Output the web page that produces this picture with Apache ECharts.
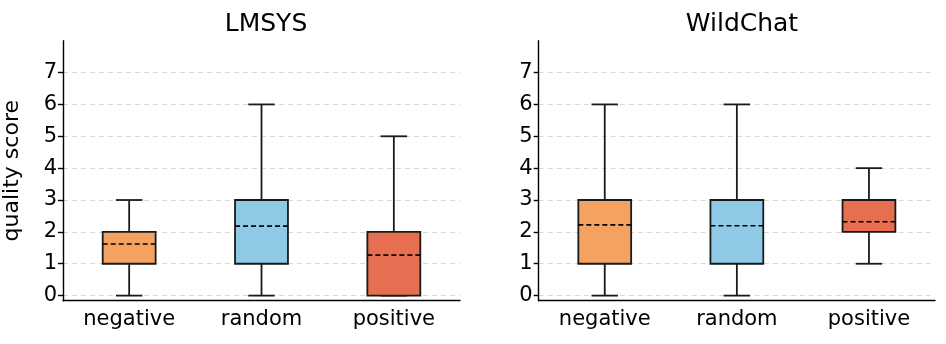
<!DOCTYPE html>
<html>
<head>
<meta charset="utf-8">
<script src="https://cdn.jsdelivr.net/npm/echarts@6/dist/echarts.min.js"></script>
<style>
  html, body { margin: 0; padding: 0; background: #fff; }
  #chart { width: 946px; height: 344px; }
</style>
</head>
<body>
<div id="chart"></div>
<script>
// data
var categories = ['negative', 'random', 'positive'];
var yTicks = [0, 1, 2, 3, 4, 5, 6, 7];
var boxColors = ['#f4a261', '#8ecae6', '#e76f51'];

var lmsysLow = [0, 0, 0],
	lmsysQ1 = [1, 1, 0],
	lmsysQ3 = [2, 3, 2],
	lmsysHigh = [3, 6, 5],
	lmsysMean = [1.62, 2.18, 1.27];

var wildLow = [0, 0, 1],
	wildQ1 = [1, 1, 2],
	wildQ3 = [3, 3, 3],
	wildHigh = [6, 6, 4],
	wildMean = [2.22, 2.19, 2.32];

var font = 'DejaVu Sans';

var buildRows = function(low, q1, q3, high, mean){
	var rows = [];
	for(var i = 0; i < categories.length; i++){
		rows.push([i, low[i], q1[i], q3[i], high[i], mean[i]]);
	}
	return rows;
};

var renderBox = function(params, api){
	var idx = api.value(0);
	var band = api.size([1, 0])[0];
	var cx = api.coord([idx, 0])[0];
	var yLow = api.coord([idx, api.value(1)])[1],
		yQ1 = api.coord([idx, api.value(2)])[1],
		yQ3 = api.coord([idx, api.value(3)])[1],
		yHigh = api.coord([idx, api.value(4)])[1],
		yMean = api.coord([idx, api.value(5)])[1];
	var half = band * 0.2, cap = band * 0.1;
	var line = {stroke: '#1a1a1a', lineWidth: 1.8};
	return {
		type: 'group',
		children: [
			{type: 'line', shape: {x1: cx, y1: yQ1, x2: cx, y2: yLow}, style: line},
			{type: 'line', shape: {x1: cx, y1: yQ3, x2: cx, y2: yHigh}, style: line},
			{type: 'line', shape: {x1: cx - cap, y1: yLow, x2: cx + cap, y2: yLow}, style: line},
			{type: 'line', shape: {x1: cx - cap, y1: yHigh, x2: cx + cap, y2: yHigh}, style: line},
			{type: 'rect', shape: {x: cx - half, y: yQ3, width: half * 2, height: yQ1 - yQ3},
				style: {fill: boxColors[idx], stroke: '#1a1a1a', lineWidth: 1.8}},
			{type: 'line', shape: {x1: cx - half, y1: yMean, x2: cx + half, y2: yMean},
				style: {stroke: '#000', lineWidth: 1.6, lineDash: [5, 3]}}
		]
	};
};

var xAxisFor = function(gi){
	return {
		type: 'category', gridIndex: gi, data: categories, boundaryGap: true,
		axisLine: {onZero: false, lineStyle: {color: '#000', width: 1.4}},
		axisTick: {alignWithLabel: true, length: 5, lineStyle: {color: '#000', width: 1.4}},
		axisLabel: {color: '#000', fontSize: 21, fontFamily: font, margin: 8},
		splitLine: {show: false}
	};
};

var yAxisFor = function(gi, name){
	return {
		type: 'value', gridIndex: gi, min: -0.16, max: 8,
		name: name, nameLocation: 'middle', nameGap: 40,
		nameTextStyle: {color: '#000', fontSize: 22, fontFamily: font},
		axisLine: {show: true, onZero: false, lineStyle: {color: '#000', width: 1.4}},
		axisTick: {show: true, length: 5, customValues: yTicks, lineStyle: {color: '#000', width: 1.4}},
		axisLabel: {color: '#000', fontSize: 21, fontFamily: font, margin: 6, customValues: yTicks},
		splitLine: {show: true, lineStyle: {color: '#d9d9d9', type: [5, 4], width: 1.2}}
	};
};

var chart = echarts.init(document.getElementById('chart'), null, {renderer: 'canvas'});
chart.setOption({
	animation: false,
	title: [
		{text: 'LMSYS', left: 261, top: 7, textAlign: 'center',
			textStyle: {fontSize: 25, fontWeight: 'normal', color: '#000', fontFamily: font}},
		{text: 'WildChat', left: 737, top: 7, textAlign: 'center',
			textStyle: {fontSize: 25, fontWeight: 'normal', color: '#000', fontFamily: font}}
	],
	grid: [
		{left: 63, top: 40.7, width: 397, height: 260},
		{left: 538.7, top: 40.7, width: 396.3, height: 260}
	],
	xAxis: [xAxisFor(0), xAxisFor(1)],
	yAxis: [yAxisFor(0, 'quality score'), yAxisFor(1, '')],
	series: [
		{type: 'custom', xAxisIndex: 0, yAxisIndex: 0, renderItem: renderBox,
			data: buildRows(lmsysLow, lmsysQ1, lmsysQ3, lmsysHigh, lmsysMean)},
		{type: 'custom', xAxisIndex: 1, yAxisIndex: 1, renderItem: renderBox,
			data: buildRows(wildLow, wildQ1, wildQ3, wildHigh, wildMean)}
	]
});
</script>
</body>
</html>
